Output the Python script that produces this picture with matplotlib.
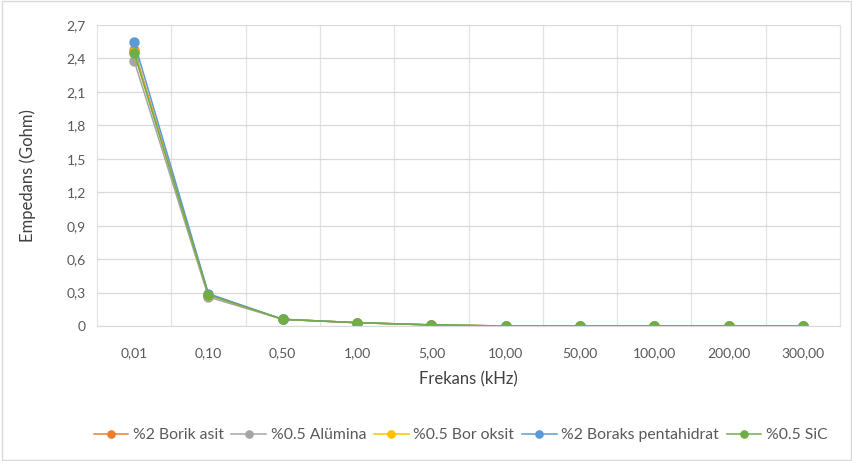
import matplotlib
matplotlib.use("Agg")
import matplotlib.pyplot as plt
import numpy as np
from matplotlib.patches import Rectangle

plt.rcParams['font.family'] = ['Lato', 'DejaVu Sans']

# Data
frequencies = ["0,01", "0,10", "0,50", "1,00", "5,00", "10,00", "50,00", "100,00", "200,00", "300,00"]
borik_asit = [2.48, 0.28, 0.06, 0.03, 0.01, 0.0, 0.0, 0.0, 0.0, 0.0]
alumina = [2.38, 0.26, 0.06, 0.03, 0.01, 0.0, 0.0, 0.0, 0.0, 0.0]
bor_oksit = [2.46, 0.28, 0.06, 0.03, 0.01, 0.0, 0.0, 0.0, 0.0, 0.0]
boraks = [2.55, 0.29, 0.06, 0.03, 0.01, 0.0, 0.0, 0.0, 0.0, 0.0]
sic = [2.45, 0.28, 0.06, 0.03, 0.01, 0.0, 0.0, 0.0, 0.0, 0.0]

series = [
    ("%2 Borik asit", borik_asit, "#ED7D31"),
    ("%0.5 Alümina", alumina, "#A5A5A5"),
    ("%0.5 Bor oksit", bor_oksit, "#FFC000"),
    ("%2 Boraks pentahidrat", boraks, "#5B9BD5"),
    ("%0.5 SiC", sic, "#70AD47"),
]

fig = plt.figure(figsize=(8.53, 4.61), dpi=100)
ax = fig.add_axes([0.1137, 0.2928, 0.8711, 0.653])

x = np.arange(len(frequencies))
for name, vals, col in series:
    ax.plot(x, vals, color=col, lw=1.1, marker='o', markersize=6.5, label=name)

ax.set_xlim(-0.5, len(frequencies) - 0.5)
ax.set_ylim(0, 2.7)
yt = np.arange(0, 2.71, 0.3)
ax.set_yticks(yt)
ax.set_yticklabels(["0" if v == 0 else f"{v:.1f}".replace(".", ",") for v in yt])
ax.set_xticks(x)
ax.set_xticklabels(frequencies)
for b in np.arange(-0.5, len(frequencies)):
    ax.axvline(b, color='#E3E3E3', lw=0.9, zorder=0, clip_on=False)
ax.grid(True, which='major', axis='y', color='#D9D9D9', lw=0.9)
ax.set_axisbelow(True)
ax.tick_params(which='both', length=0, labelsize=10, colors='#595959')
ax.tick_params(axis='x', pad=15)
ax.tick_params(axis='y', pad=8)
for s in ['top', 'right', 'left']:
    ax.spines[s].set_visible(False)
ax.spines['bottom'].set_color('#D9D9D9')

ax.set_xlabel("Frekans (kHz)", fontsize=12, color='#404040', labelpad=9)
ax.set_ylabel("Empedans (Gohm)", fontsize=12, color='#404040', labelpad=22)

fig.legend(loc='center', bbox_to_anchor=(0.54, 0.056), ncol=5, frameon=False,
           fontsize=11.3, handlelength=2.2, columnspacing=0.5, handletextpad=0.3,
           markerscale=0.8, labelcolor='#595959')

fig.patches.append(Rectangle((0.002, 0.002), 0.996, 0.996, transform=fig.transFigure,
                             fill=False, edgecolor='#D9D9D9', lw=1))

fig.savefig("out.png", dpi=100)
